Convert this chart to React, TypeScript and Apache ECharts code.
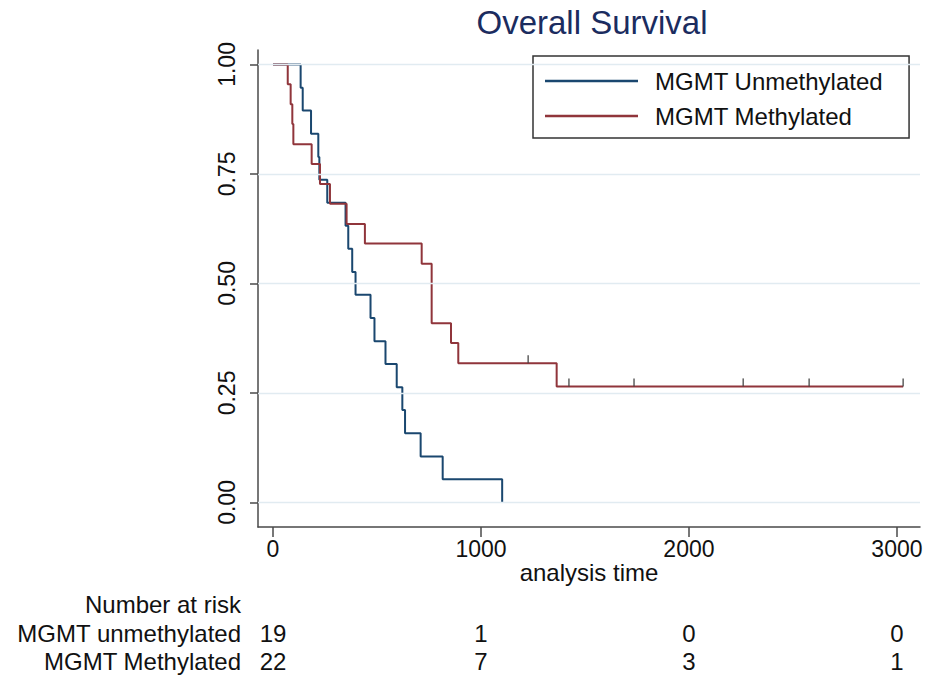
import React, { useEffect, useRef } from "react";
import * as echarts from "echarts";

// ---- Data ----
const unmethTimes = [0, 133, 143, 183, 218, 223, 261, 349, 362, 381, 397, 469, 488, 541, 595, 622, 635, 710, 816, 1102];
const unmethSurv = [1, 0.947, 0.895, 0.842, 0.789, 0.737, 0.684, 0.632, 0.579, 0.526, 0.474, 0.421, 0.368, 0.316, 0.263, 0.211, 0.158, 0.105, 0.053, 0];
const methTimes = [0, 71, 85, 93, 98, 186, 226, 274, 354, 442, 715, 763, 856, 891, 1364, 3030];
const methSurv = [1, 0.955, 0.909, 0.864, 0.818, 0.773, 0.727, 0.682, 0.636, 0.591, 0.545, 0.409, 0.364, 0.318, 0.265, 0.265];
const methCensorTimes = [1227, 1423, 1736, 2261, 2578, 3030];
const methCensorSurv = [0.318, 0.265, 0.265, 0.265, 0.265, 0.265];
const xTicks = [0, 1000, 2000, 3000];
const yTicks = [0, 0.25, 0.5, 0.75, 1];
const riskUnmeth = [19, 1, 0, 0];
const riskMeth = [22, 7, 3, 1];
const seriesNames = ["MGMT Unmethylated", "MGMT Methylated"];
const riskRowLabels = ["MGMT unmethylated", "MGMT Methylated"];
const riskTitle = "Number at risk";
const chartTitle = "Overall Survival";
const xTitle = "analysis time";

const FONT = "'Liberation Sans', Arial, Helvetica, sans-serif";
const BLUE = "#1a476f";
const RED = "#90353b";
const AXIS = "#4a4a4a";
const X_MIN = -72;
const X_MAX = 3111;

export default function App() {
  const ref = useRef<HTMLDivElement>(null);

  useEffect(() => {
    if (!ref.current) return;
    const chart = echarts.init(ref.current, undefined, { renderer: "svg" });

    const pairs = (xs: number[], ys: number[]) => xs.map((x, i) => [x, ys[i]]);
    const riskAxis = (values: number[], offset: number) => ({
      type: "value",
      min: X_MIN,
      max: X_MAX,
      position: "bottom",
      offset,
      axisLine: { show: false },
      axisTick: { show: false },
      splitLine: { show: false },
      axisLabel: {
        show: true,
        customValues: xTicks,
        margin: 0,
        fontSize: 24,
        color: "#111",
        fontFamily: FONT,
        formatter: (v: number) => String(values[xTicks.indexOf(v)]),
      },
    });

    const option: any = {
      animation: false,
      backgroundColor: "#ffffff",
      textStyle: { fontFamily: FONT },
      grid: { left: 258, right: 7, top: 50, bottom: 155, containLabel: false, outerBoundsMode: "none" },
      legend: {
        data: seriesNames,
        orient: "vertical",
        left: 533,
        top: 56,
        padding: [13, 26, 10, 12],
        itemGap: 11,
        itemWidth: 93,
        itemHeight: 2.5,
        icon: "rect",
        borderColor: "#333",
        borderWidth: 1.5,
        backgroundColor: "#fff",
        textStyle: { fontSize: 24, color: "#111", fontFamily: FONT, padding: [0, 0, 0, 12] },
      },
      xAxis: [
        {
          type: "value",
          min: X_MIN,
          max: X_MAX,
          position: "bottom",
          axisLine: { show: true, onZero: false, lineStyle: { color: AXIS, width: 1.5 } },
          axisTick: { show: true, customValues: xTicks, length: 10, lineStyle: { color: AXIS, width: 1.5 } },
          axisLabel: {
            customValues: xTicks,
            margin: 10,
            fontSize: 23,
            color: "#111",
            fontFamily: FONT,
            formatter: (v: number) => String(v),
          },
          splitLine: { show: false },
          name: xTitle,
          nameLocation: "middle",
          nameGap: 33,
          nameMoveOverlap: false,
          nameTextStyle: { fontSize: 24, color: "#111", fontFamily: FONT },
        },
        riskAxis(riskUnmeth, 94),
        riskAxis(riskMeth, 122),
      ],
      yAxis: {
        type: "value",
        min: -0.056,
        max: 1.033,
        axisLine: { show: true, onZero: false, lineStyle: { color: AXIS, width: 1.5 } },
        axisTick: { show: true, customValues: yTicks, length: 8, lineStyle: { color: AXIS, width: 1.5 } },
        axisLabel: {
          customValues: yTicks,
          rotate: 90,
          margin: 20,
          fontSize: 23,
          color: "#111",
          fontFamily: FONT,
          formatter: (v: number) => v.toFixed(2),
        },
        splitLine: { show: false },
      },
      series: [
        {
          type: "line",
          data: [],
          silent: true,
          z: 1,
          markLine: {
            silent: true,
            symbol: ["none", "none"],
            label: { show: false },
            lineStyle: { color: "#e1ebf1", width: 1.3, type: "solid" },
            data: yTicks.map((v) => ({ yAxis: v })),
          },
        },
        {
          name: seriesNames[0],
          type: "line",
          step: "end",
          symbol: "none",
          z: 3,
          data: pairs(unmethTimes, unmethSurv),
          lineStyle: { color: BLUE, width: 2 },
          itemStyle: { color: BLUE },
        },
        {
          name: seriesNames[1],
          type: "line",
          step: "end",
          symbol: "none",
          z: 4,
          data: pairs(methTimes, methSurv),
          lineStyle: { color: RED, width: 2 },
          itemStyle: { color: RED },
        },
        {
          type: "scatter",
          z: 5,
          symbol: "rect",
          symbolSize: [1.6, 8],
          symbolOffset: [0, -4],
          itemStyle: { color: "#444" },
          data: pairs(methCensorTimes, methCensorSurv),
        },
      ],
      graphic: [
        {
          type: "text",
          x: 592,
          y: 22,
          style: { text: chartTitle, fontSize: 33, fill: "#1b2c5f", fontFamily: FONT, textAlign: "center", textVerticalAlign: "middle" },
        },
        {
          type: "text",
          x: 241,
          y: 604,
          style: { text: riskTitle, fontSize: 24, fill: "#111", fontFamily: FONT, textAlign: "right", textVerticalAlign: "middle" },
        },
        {
          type: "text",
          x: 241,
          y: 633,
          style: { text: riskRowLabels[0], fontSize: 24, fill: "#111", fontFamily: FONT, textAlign: "right", textVerticalAlign: "middle" },
        },
        {
          type: "text",
          x: 241,
          y: 661,
          style: { text: riskRowLabels[1], fontSize: 24, fill: "#111", fontFamily: FONT, textAlign: "right", textVerticalAlign: "middle" },
        },
      ],
    };

    chart.setOption(option);
    return () => chart.dispose();
  }, []);

  return (
    <div
      ref={ref}
      style={{ position: "fixed", left: 0, top: 0, width: 927, height: 682, background: "#fff" }}
    />
  );
}
